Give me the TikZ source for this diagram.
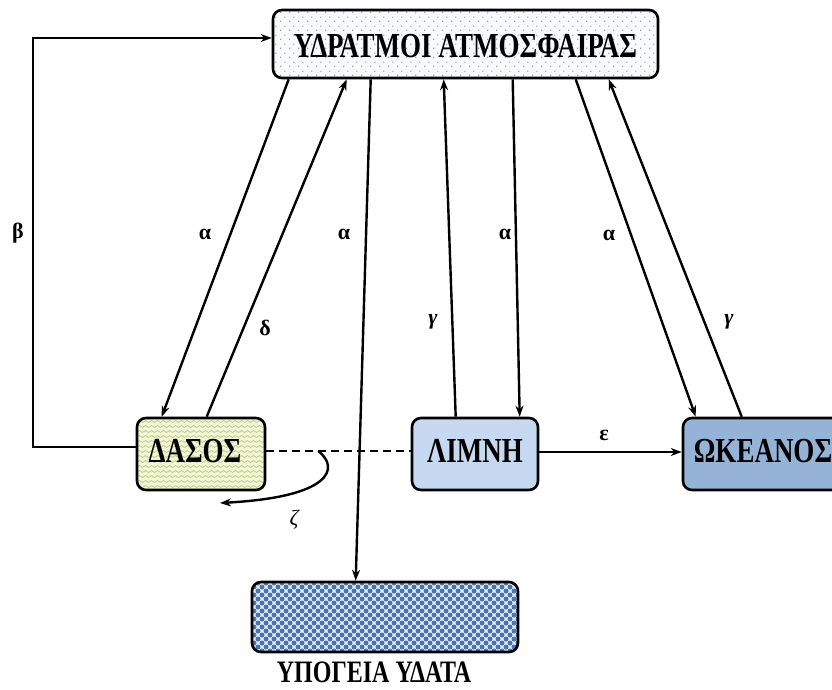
\documentclass[tikz,border=0pt]{standalone}
\usepackage{fontspec}
\setmainfont{Liberation Serif}
\usetikzlibrary{arrows.meta,patterns}

\pgfdeclarepatternformonly{dotgrid}{\pgfpointorigin}{\pgfpoint{9pt}{9pt}}{\pgfpoint{9pt}{9pt}}{%
  \pgfpathcircle{\pgfpoint{2pt}{2pt}}{0.75pt}\pgfusepath{fill}%
  \pgfpathcircle{\pgfpoint{6.5pt}{6.5pt}}{0.75pt}\pgfusepath{fill}}
\pgfdeclarepatternformonly{wavelines}{\pgfpoint{-1pt}{-1pt}}{\pgfpoint{7pt}{6pt}}{\pgfpoint{6pt}{5pt}}{%
  \pgfsetlinewidth{0.6pt}%
  \pgfpathmoveto{\pgfpoint{0pt}{2.5pt}}%
  \pgfpathcurveto{\pgfpoint{1pt}{3.8pt}}{\pgfpoint{2pt}{3.8pt}}{\pgfpoint{3pt}{2.5pt}}%
  \pgfpathcurveto{\pgfpoint{4pt}{1.2pt}}{\pgfpoint{5pt}{1.2pt}}{\pgfpoint{6pt}{2.5pt}}%
  \pgfusepath{stroke}}
\pgfdeclarepatternformonly{balls}{\pgfpoint{-4pt}{-4pt}}{\pgfpoint{12pt}{12pt}}{\pgfpoint{8pt}{8pt}}{%
  \pgfpathcircle{\pgfpoint{2pt}{2pt}}{2.5pt}\pgfusepath{fill}%
  \pgfpathcircle{\pgfpoint{6pt}{6pt}}{2.5pt}\pgfusepath{fill}}

\definecolor{topfill}{HTML}{F7F9FC}
\definecolor{forestfill}{HTML}{F1F5DA}
\definecolor{forestwave}{HTML}{B9C46A}
\definecolor{lakefill}{HTML}{C6D9F1}
\definecolor{oceanfill}{HTML}{95B3D7}
\definecolor{ugfill}{HTML}{E2ECF8}
\definecolor{ugball}{HTML}{4A74B6}

\tikzset{
  box/.style={draw=black, line width=2.6pt, rounded corners=9pt, inner sep=0pt},
  boxtext/.style={font=\bfseries\fontsize{27}{27}\selectfont},
  arr/.style={line width=2.4pt, -{Stealth[length=11pt,width=8pt]}},
  plain/.style={line width=2.4pt},
  lbl/.style={font=\bfseries\fontsize{22}{22}\selectfont, inner sep=0pt},
  mlbl/.style={font=\bfseries\itshape\fontsize{22}{22}\selectfont, inner sep=0pt}
}
\newcommand{\tallbox}[1]{\scalebox{1}[1.3]{#1}}

\begin{document}
\begin{tikzpicture}[x=1pt,y=-1pt]
\useasboundingbox (0,0) rectangle (832,689);

% boxes
\node[box, minimum width=385pt, minimum height=68pt,
      preaction={fill=topfill}, pattern=dotgrid, pattern color=black!50] (top) at (465.5,44) {};
\node[boxtext] at ([yshift=-2pt]top.center) {\tallbox{ΥΔΡΑΤΜΟΙ ΑΤΜΟΣΦΑΙΡΑΣ}};

\node[box, minimum width=128pt, minimum height=72pt,
      preaction={fill=forestfill}, pattern=wavelines, pattern color=forestwave] (dasos) at (201,454) {};
\node[boxtext] at ([xshift=-6pt,yshift=3pt]dasos.center) {\tallbox{ΔΑΣΟΣ}};

\node[box, minimum width=126pt, minimum height=72pt, fill=lakefill] (limni) at (475,454) {};
\node[boxtext] at ([yshift=3pt]limni.center) {\tallbox{ΛΙΜΝΗ}};

\node[box, minimum width=160pt, minimum height=72pt, fill=oceanfill] (okeanos) at (763,454) {};
\node[boxtext] at ([yshift=3pt]okeanos.center) {\tallbox{ΩΚΕΑΝΟΣ}};

\node[box, minimum width=266pt, minimum height=70pt,
      preaction={fill=ugfill}, pattern=balls, pattern color=ugball] (ug) at (385,617) {};
\node[boxtext, font=\bfseries\fontsize{24}{24}\selectfont] (uglabel) at (374,672) {\tallbox{ΥΠΟΓΕΙΑ ΥΔΑΤΑ}};

% connectors
\draw[arr] ([xshift=17pt]top.south west) -- ([xshift=26pt]dasos.north west);
\draw[arr] ([xshift=71pt]dasos.north west) -- ([xshift=75pt]top.south west);
\draw[arr] ([xshift=99pt]top.south west) -- ([xshift=105pt]ug.north west);
\draw[arr] ([xshift=45pt]limni.north west) -- ([xshift=172pt]top.south west);
\draw[arr] ([xshift=241pt]top.south west) -- ([xshift=109pt]limni.north west);
\draw[arr] ([xshift=304pt]top.south west) -- ([xshift=14pt]okeanos.north west);
\draw[arr] ([xshift=60pt]okeanos.north west) -- ([xshift=337pt]top.south west);

\draw[arr] ([yshift=7pt]dasos.west) -- ++(-103,0) |- ([yshift=6pt]top.west);

\draw[plain, dash pattern=on 8pt off 5pt] ([yshift=3pt]dasos.east) -- ([yshift=3pt]limni.west)
  coordinate[pos=0.36] (zs);
\draw[arr] ([yshift=2pt]limni.east) -- ([yshift=2pt]okeanos.west);

\coordinate (zt) at (220,503);
\draw[arr] (zs) .. controls (340,468) and (332,497) .. (zt);

% labels
\node[lbl] (lb) at (18,233) {β};
\node[lbl] (la1) at (205,234) {α};
\node[lbl] (ld) at (265,328) {δ};
\node[lbl] (la2) at (344,234) {α};
\node[mlbl] (lg1) at (433,322) {γ};
\node[lbl] (la3) at (505,234) {α};
\node[lbl] (la4) at (609,235) {α};
\node[mlbl] (lg2) at (729,322) {γ};
\node[lbl] (le) at (604,435) {ε};
\node[mlbl, font=\itshape\fontsize{22}{22}\selectfont] (lz) at (294,520) {ζ};
\end{tikzpicture}
\end{document}
